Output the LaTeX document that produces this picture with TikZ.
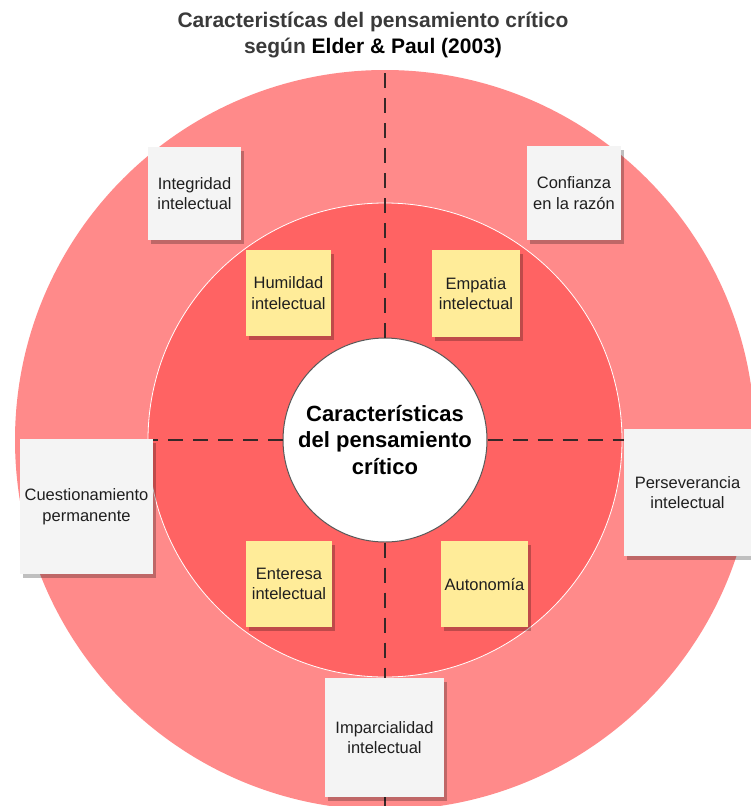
\documentclass[tikz,border=0pt]{standalone}
\usepackage{fontspec}
\setmainfont{Liberation Sans}
\usetikzlibrary{shadows}
\definecolor{outerred}{RGB}{255,138,138}
\definecolor{innerred}{RGB}{255,99,99}
\definecolor{boxgray}{RGB}{244,244,244}
\definecolor{boxyellow}{RGB}{255,236,153}
\definecolor{titlegray}{RGB}{58,58,58}
\definecolor{dashgray}{RGB}{55,40,40}
\begin{document}
\begin{tikzpicture}[x=1pt,y=-1pt,
  boxbase/.style={rectangle, align=center, inner sep=0pt, text=black!88,
    font=\fontsize{16.5}{20.5}\selectfont,
    drop shadow={shadow xshift=3pt, shadow yshift=-4pt, opacity=0.25, fill=black}},
  graybox/.style={boxbase, fill=boxgray},
  yellowbox/.style={boxbase, fill=boxyellow},
  axisline/.style={draw=dashgray, line width=1.8pt, dash pattern=on 15pt off 10pt}]
\useasboundingbox (0,0) rectangle (751,806);
\clip (0,0) rectangle (751,806);
\fill[white] (0,0) rectangle (751,806);
% rings
\fill[outerred] (385,440) circle[radius=370];
\filldraw[fill=innerred, draw=white, line width=0.8pt] (385,440) circle[radius=237];
% title
\node[align=center, font=\bfseries\fontsize{21}{26}\selectfont, text=titlegray] (title) at (373,35)
  {Caracteristícas del pensamiento crítico\\según \textcolor{black}{Elder \& Paul (2003)}};
% centre
\node[circle, minimum size=204pt, inner sep=0pt, fill=white, draw=gray!70!black, line width=1pt,
  align=center, font=\bfseries\fontsize{22}{26.5}\selectfont, text=black] (center) at (385,440)
  {Características\\del pensamiento\\crítico};
% axis ends
\coordinate (topend) at (385,72);
\coordinate (botend) at (385,806);
\coordinate (leftend) at (20,440);
\coordinate (rightend) at (624,440);
\draw[axisline] (center.north) -- (topend);
\draw[axisline] (center.south) -- (botend);
\draw[axisline] (center.west) -- (leftend);
\draw[axisline] (center.east) -- (rightend);
% outer ring boxes
\node[graybox, minimum width=93pt, minimum height=93pt] (integ) at (194.5,193.5) {Integridad\\intelectual};
\node[graybox, minimum width=94pt, minimum height=94pt] (conf) at (574,193) {Confianza\\en la razón};
\node[graybox, minimum width=133pt, minimum height=135pt] (cuest) at (86.5,506.5) {Cuestionamiento\\permanente};
\node[graybox, minimum width=127pt, minimum height=127pt] (perse) at (687.5,492.5) {Perseverancia\\intelectual};
\node[graybox, minimum width=119pt, minimum height=119pt] (impar) at (384.5,737.5) {Imparcialidad\\intelectual};
% inner ring boxes
\node[yellowbox, minimum width=85pt, minimum height=86pt] (humil) at (288.5,293) {Humildad\\intelectual};
\node[yellowbox, minimum width=88pt, minimum height=87pt] (empat) at (476,293.5) {Empatia\\intelectual};
\node[yellowbox, minimum width=86pt, minimum height=86pt] (entere) at (289,584) {Enteresa\\intelectual};
\node[yellowbox, minimum width=87pt, minimum height=86pt] (auton) at (484.5,584) {Autonomía};
\end{tikzpicture}
\end{document}
